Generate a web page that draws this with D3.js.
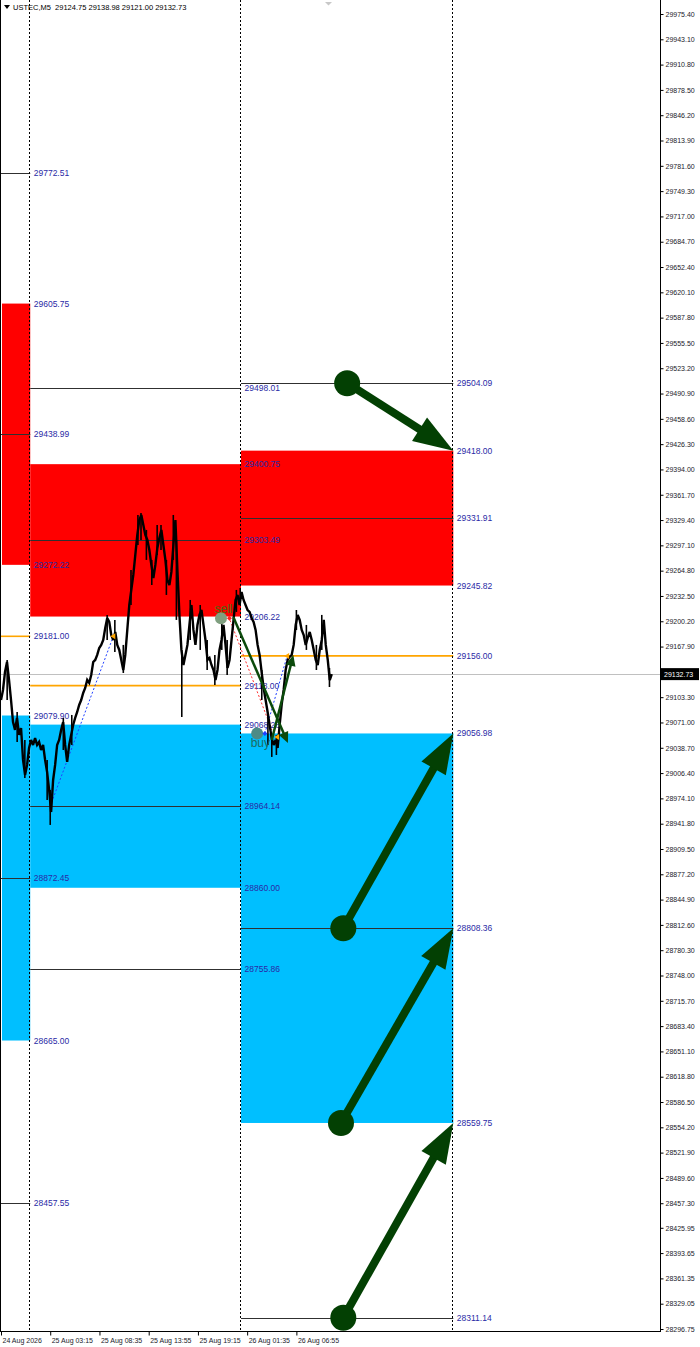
<!DOCTYPE html>
<html><head><meta charset="utf-8">
<script src="https://cdn.jsdelivr.net/npm/d3@7"></script>
<style>html,body{margin:0;padding:0;background:#fff;overflow:hidden}</style>
</head><body><svg id="c" width="700" height="1347" xmlns="http://www.w3.org/2000/svg"></svg>
<script>
// ---------- DATA ----------
const symbolHeader = "USTEC,M5  29124.75 29138.98 29121.00 29132.73";
const lastPrice = 29132.73;
const priceTicks = [29975.40,29943.10,29910.80,29878.50,29846.20,29813.90,29781.60,29749.30,29717.00,29684.70,29652.40,29620.10,29587.80,29555.50,29523.20,29490.90,29458.60,29426.30,29394.00,29361.70,29329.40,29297.10,29264.80,29232.50,29200.20,29167.90,29103.30,29071.00,29038.70,29006.40,28974.10,28941.80,28909.50,28877.20,28844.90,28812.60,28780.30,28748.00,28715.70,28683.40,28651.10,28618.80,28586.50,28554.20,28521.90,28489.60,28457.30,28425.95,28393.65,28361.35,28329.05,28296.75];
const timeTicks = [0,64,128,192,256,320,384];
const timeLabels = ["24 Aug 2026","25 Aug 03:15","25 Aug 08:35","25 Aug 13:55","25 Aug 19:15","26 Aug 01:35","26 Aug 06:55"];
const separators = [38,312,588];
const lastBar = 430;
const closes = [29099.7,29112.5,29135.5,29148.2,29125.3,29099.7,29071.6,29061.5,29076.8,29055.1,
29064.0,29023.2,29004.0,29016.8,29038.5,29048.7,29042.3,29051.2,29042.3,29046.1,
29035.9,29042.3,29023.2,29007.8,28984.9,28956.7,28997.6,29016.8,29042.3,29048.7,
29061.5,29071.6,29042.3,29020.6,29042.3,29055.1,29067.8,29076.8,29084.4,29093.4,
29099.7,29108.7,29115.1,29125.3,29121.5,29131.7,29148.2,29150.8,29157.2,29166.1,
29170.0,29176.3,29191.6,29204.4,29199.3,29182.7,29176.3,29186.6,29170.0,29163.6,
29150.8,29138.0,29157.2,29189.1,29221.0,29240.2,29259.3,29284.8,29310.4,29329.5,
29335.9,29323.1,29310.4,29304.0,29291.2,29272.1,29255.5,29272.1,29293.8,29306.5,
29316.8,29297.6,29278.5,29252.9,29246.5,29263.2,29297.6,29329.5,29265.7,29208.3,
29163.6,29144.4,29157.2,29170.0,29195.5,29221.0,29189.1,29170.0,29195.5,29208.3,
29214.6,29195.5,29176.3,29150.8,29153.3,29144.4,29138.0,29125.3,29138.0,29163.6,
29176.3,29195.5,29170.0,29140.6,29150.8,29176.3,29201.9,29227.4,29233.8,29221.0,
29237.6,29227.4,29221.0,29214.6,29212.1,29204.4,29199.3,29189.1,29170.0,29157.2,
29135.5,29115.1,29099.7,29084.4,29067.8,29051.2,29042.3,29048.7,29038.5,29067.8,
29093.4,29112.5,29138.0,29150.8,29154.7,29157.2,29170.0,29195.5,29208.3,29201.9,
29189.1,29182.7,29170.0,29178.9,29186.6,29176.3,29163.6,29150.8,29144.4,29163.6,
29176.3,29201.9,29170.0,29150.8,29125.0,29132.7];
const wicks = [
 {bar:8,hi:29150.8,lo:29099.7},{bar:21,hi:29084.4,lo:29046.1},{bar:31,hi:29048.7,lo:29000.2},
 {bar:60,hi:29023.2,lo:28972.1},{bar:64,hi:28984.9,lo:28940.2},{bar:81,hi:29076.8,lo:29035.9},
 {bar:92,hi:29080.6,lo:29042.3},{bar:138,hi:29208.3,lo:29176.3},{bar:148,hi:29201.9,lo:29161.0},
 {bar:159,hi:29170.0,lo:29134.2},{bar:169,hi:29265.7,lo:29221.0},{bar:178,hi:29335.9,lo:29297.6},
 {bar:182,hi:29338.4,lo:29304.0},{bar:189,hi:29316.8,lo:29278.5},{bar:196,hi:29278.5,lo:29246.5},
 {bar:203,hi:29323.1,lo:29284.8},{bar:208,hi:29323.1,lo:29291.2},{bar:215,hi:29278.5,lo:29233.8},
 {bar:224,hi:29335.9,lo:29278.5},{bar:228,hi:29304.0,lo:29201.9},{bar:235,hi:29163.6,lo:29078.0},
 {bar:246,hi:29227.4,lo:29176.3},{bar:259,hi:29221.0,lo:29163.6},{bar:268,hi:29176.3,lo:29138.0},
 {bar:278,hi:29157.2,lo:29118.9},{bar:287,hi:29201.9,lo:29163.6},{bar:294,hi:29176.3,lo:29131.7},
 {bar:306,hi:29240.2,lo:29212.1},{bar:311,hi:29242.7,lo:29227.4},{bar:339,hi:29138.0,lo:29099.7},
 {bar:347,hi:29080.6,lo:29042.3},{bar:352,hi:29055.1,lo:29027.0},{bar:358,hi:29055.1,lo:29029.5},
 {bar:384,hi:29214.6,lo:29189.1},{bar:397,hi:29195.5,lo:29163.6},{bar:410,hi:29170.0,lo:29138.0},
 {bar:417,hi:29208.3,lo:29163.6},{bar:427,hi:29140.6,lo:29116.3}];
const sellZones = [
 {from:0,to:38,top:29605.75,bottom:29272.22},
 {from:38,to:312,top:29400.75,bottom:29206.22},
 {from:312,to:588,top:29418.00,bottom:29245.82}];
const buyZones = [
 {from:0,to:38,top:29079.90,bottom:28665.00},
 {from:38,to:312,top:29068.28,bottom:28860.00},
 {from:312,to:588,top:29056.98,bottom:28559.75}];
const blackLevels = [
 {from:0,to:38,price:29772.51},{from:0,to:38,price:29438.99},{from:0,to:38,price:28872.45},{from:0,to:38,price:28457.55},
 {from:38,to:312,price:29498.01},{from:38,to:312,price:29303.49},{from:38,to:312,price:28964.14},{from:38,to:312,price:28755.86},
 {from:312,to:588,price:29504.09},{from:312,to:588,price:29331.91},{from:312,to:588,price:28808.36},{from:312,to:588,price:28311.14}];
const orangeLevels = [
 {from:0,to:38,price:29181.00},{from:38,to:312,price:29118.00},{from:312,to:588,price:29156.00}];
const bigArrows = [
 {fromBar:450,fromPrice:29504.09,toBar:588,toPrice:29418.00},
 {fromBar:445,fromPrice:28808.36,toBar:588,toPrice:29056.98},
 {fromBar:442,fromPrice:28559.75,toBar:588,toPrice:28808.36},
 {fromBar:445,fromPrice:28311.14,toBar:588,toPrice:28559.75}];
const tradeLines = [
 {b1:64,p1:28964.14,b2:146,p2:29181.00,color:"#2040ff"},
 {b1:296,p1:29206.22,b2:352,p2:29061.5,color:"#ff3030"},
 {b1:343,p1:29056.98,b2:372,p2:29156.00,color:"#2040ff"}];
const trendArrows = [
 {b1:302,p1:29205.7,b2:373,p2:29044.8},
 {b1:352,p1:29048.7,b2:380,p2:29157.2}];
const exitMarks = [{bar:146,price:29181.0},{bar:372,price:29156.0},{bar:359,price:29052.5}];
const signals = [
 {label:"sell",bar:286,price:29204.0,circle:"#7f9f7f",text:"#4a6a10",dot:"#ff2020",dotBar:297,dy:-5},
 {label:"buy",bar:333,price:29056.98,circle:"#4d8b86",text:"#1d6b5e",dot:"#2040ff",dotBar:343,dy:14}];

// ---------- DRAW ----------
const svg = d3.select("#c");
const W = 660, H = 1331;
const x = d3.scaleLinear().domain([0, 858]).range([1, 661]);
const y = d3.scaleLinear().domain([29975.40, 28296.75]).range([14, 1329]);
const FONT = "'Liberation Sans', Arial, sans-serif";
const crisp = v => Math.round(v) + 0.5;

const plot = svg.append("g");
plot.append("defs").append("clipPath").attr("id","clip").append("rect").attr("x",0).attr("y",0).attr("width",W).attr("height",H);
const g = plot.append("g").attr("clip-path","url(#clip)");

// zones
g.selectAll("rect.sell").data(sellZones).join("rect").attr("class","sell")
  .attr("x",d=>x(d.from)+ (d.from===0?1:0)).attr("width",d=>x(d.to)-x(d.from)-(d.from===0?1:0))
  .attr("y",d=>y(d.top)).attr("height",d=>y(d.bottom)-y(d.top)).attr("fill","#ff0000");
g.selectAll("rect.buy").data(buyZones).join("rect").attr("class","buy")
  .attr("x",d=>x(d.from)+(d.from===0?1:0)).attr("width",d=>x(d.to)-x(d.from)-(d.from===0?1:0))
  .attr("y",d=>y(d.top)).attr("height",d=>y(d.bottom)-y(d.top)).attr("fill","#00bfff");

// current price line
g.append("line").attr("x1",0).attr("x2",W).attr("y1",crisp(y(lastPrice))).attr("y2",crisp(y(lastPrice)))
  .attr("stroke","#c0c0c0").attr("stroke-width",1);

// black levels
g.selectAll("line.lvl").data(blackLevels).join("line").attr("class","lvl")
  .attr("x1",d=>x(d.from)).attr("x2",d=>x(d.to)).attr("y1",d=>crisp(y(d.price))).attr("y2",d=>crisp(y(d.price)))
  .attr("stroke","#303030").attr("stroke-width",1);
// orange levels
g.selectAll("line.or").data(orangeLevels).join("line").attr("class","or")
  .attr("x1",d=>x(d.from)).attr("x2",d=>x(d.to)).attr("y1",d=>y(d.price)).attr("y2",d=>y(d.price))
  .attr("stroke","#ffa500").attr("stroke-width",1.6);

// separators
g.selectAll("line.sep").data(separators).join("line").attr("class","sep")
  .attr("x1",d=>crisp(x(d))-1).attr("x2",d=>crisp(x(d))-1).attr("y1",0).attr("y2",H)
  .attr("stroke","#000").attr("stroke-width",1).attr("stroke-dasharray","2,2");

// level labels (at the right end of each level)
const labelData = [];
sellZones.concat(buyZones).forEach(z=>{labelData.push({to:z.to,price:z.top});labelData.push({to:z.to,price:z.bottom});});
blackLevels.concat(orangeLevels).forEach(l=>labelData.push({to:l.to,price:l.price}));
g.selectAll("text.lbl").data(labelData).join("text").attr("class","lbl")
  .attr("x",d=>x(d.to)+3.5).attr("y",d=>y(d.price)+3)
  .attr("font-family",FONT).attr("font-size","8.5px").attr("fill","#2a2aa6")
  .text(d=>d.price.toFixed(2));

// trade dotted lines
g.selectAll("line.tr").data(tradeLines).join("line").attr("class","tr")
  .attr("x1",d=>x(d.b1)).attr("y1",d=>y(d.p1)).attr("x2",d=>x(d.b2)).attr("y2",d=>y(d.p2))
  .attr("stroke",d=>d.color).attr("stroke-width",1).attr("stroke-dasharray","2,2");

// price series
const step = lastBar/(closes.length-1);
g.selectAll("line.wick").data(wicks).join("line").attr("class","wick")
  .attr("x1",d=>x(d.bar)).attr("x2",d=>x(d.bar)).attr("y1",d=>y(d.hi)).attr("y2",d=>y(d.lo))
  .attr("stroke","#000").attr("stroke-width",1.6);
g.append("path").datum(closes)
  .attr("d",d3.line().x((d,i)=>x(i*step)).y(d=>y(d)))
  .attr("fill","none").attr("stroke","#000").attr("stroke-width",2.4).attr("stroke-linejoin","miter").attr("stroke-miterlimit",3);

// exit marks (small orange triangles)
g.selectAll("path.ex").data(exitMarks).join("path").attr("class","ex")
  .attr("transform",d=>`translate(${x(d.bar)},${y(d.price)})`)
  .attr("d","M-3,0 L2,-3 L2,3 Z").attr("fill","#ffa500");

// signals
const sg = g.selectAll("g.sig").data(signals).join("g").attr("class","sig");
sg.append("circle").attr("cx",d=>x(d.bar)).attr("cy",d=>y(d.price)).attr("r",6).attr("fill",d=>d.circle);
sg.append("path").attr("transform",d=>`translate(${x(d.dotBar)},${y(d.price)})`).attr("d","M-2.5,0 L0,-2.5 L2.5,0 L0,2.5 Z").attr("fill",d=>d.dot);

// trend arrows (thin)
const arrowHead = (x1,y1,x2,y2,len,half)=>{
  const a=Math.atan2(y2-y1,x2-x1), c=Math.cos(a), s=Math.sin(a);
  const bx=x2-len*c, by=y2-len*s;
  return `M${x2},${y2} L${bx - half*s},${by + half*c} L${bx + half*s},${by - half*c} Z`;
};
trendArrows.forEach(d=>{
  const x1=x(d.b1),y1=y(d.p1),x2=x(d.b2),y2=y(d.p2);
  const a=Math.atan2(y2-y1,x2-x1);
  g.append("line").attr("x1",x1).attr("y1",y1).attr("x2",x2-8*Math.cos(a)).attr("y2",y2-8*Math.sin(a))
   .attr("stroke","#0b4a0b").attr("stroke-width",2.5);
  g.append("path").attr("d",arrowHead(x1,y1,x2,y2,11,5)).attr("fill","#0b4a0b");
});
g.selectAll("text.sigt").data(signals).join("text").attr("class","sigt")
  .attr("x",d=>x(d.bar)-6.5).attr("y",d=>y(d.price)+d.dy)
  .attr("font-family",FONT).attr("font-size","12px").attr("fill",d=>d.text).text(d=>d.label);

// big arrows
bigArrows.forEach(d=>{
  const x1=x(d.fromBar),y1=y(d.fromPrice),x2=x(d.toBar),y2=y(d.toPrice);
  const a=Math.atan2(y2-y1,x2-x1);
  g.append("line").attr("x1",x1).attr("y1",y1).attr("x2",x2-36*Math.cos(a)).attr("y2",y2-36*Math.sin(a))
   .attr("stroke","#034003").attr("stroke-width",8);
  g.append("path").attr("d",arrowHead(x1,y1,x2,y2,40,14)).attr("fill","#034003");
  g.append("circle").attr("cx",x1).attr("cy",y1).attr("r",13).attr("fill","#034003");
});

// frame
svg.append("line").attr("x1",0.5).attr("x2",0.5).attr("y1",0).attr("y2",H).attr("stroke","#000");
svg.append("line").attr("x1",W+0.5).attr("x2",W+0.5).attr("y1",0).attr("y2",H+1).attr("stroke","#000");
svg.append("line").attr("x1",0).attr("x2",W+1).attr("y1",H+0.5).attr("y2",H+0.5).attr("stroke","#000");

// right axis
const ra = svg.append("g").attr("transform",`translate(${W+0.5},0)`)
  .call(d3.axisRight(y).tickValues(priceTicks).tickFormat(d=>d.toFixed(2)).tickSize(3).tickPadding(2));
ra.select(".domain").remove();
ra.selectAll("text").attr("font-family",FONT).attr("font-size","7px").attr("fill","#1a1a2a");
ra.selectAll("line").attr("stroke","#000");

// current price label
const ly = y(lastPrice);
svg.append("rect").attr("x",W+1).attr("y",ly-6).attr("width",38).attr("height",12).attr("fill","#000");
svg.append("text").attr("x",W+4).attr("y",ly+2.5).attr("font-family",FONT).attr("font-size","7px").attr("fill","#fff").text(lastPrice.toFixed(2));

// bottom axis
const ba = svg.append("g").attr("transform",`translate(0,${H+0.5})`)
  .call(d3.axisBottom(x).tickValues(timeTicks).tickFormat((d,i)=>timeLabels[i]).tickSize(4).tickPadding(3));
ba.select(".domain").remove();
ba.selectAll("text").attr("text-anchor","start").attr("dx","1px")
  .attr("font-family",FONT).attr("font-size","7px").attr("fill","#1a1a2a");
ba.selectAll("line").attr("stroke","#000");

// header
svg.append("path").attr("d","M4,5 L10,5 L7,9 Z").attr("fill","#000");
svg.append("text").attr("x",13).attr("y",10).attr("font-family",FONT).attr("font-size","7.5px").attr("fill","#000")
  .attr("xml:space","preserve").style("white-space","pre").text(symbolHeader);
svg.append("path").attr("d","M325,2 L332,2 L328.5,5.5 Z").attr("fill","#c8c8c8");
</script></body></html>
